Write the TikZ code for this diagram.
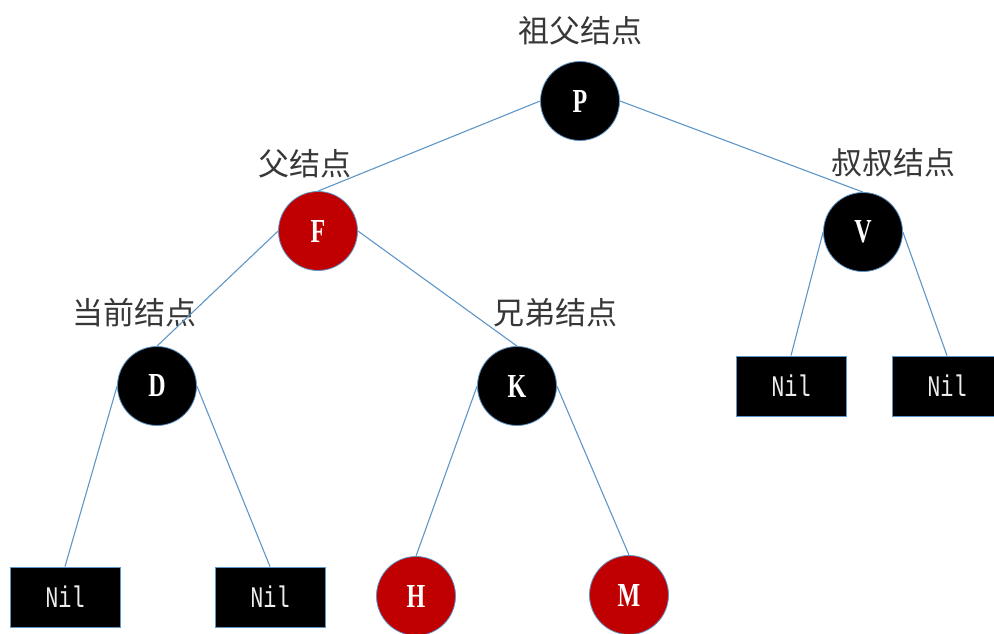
\documentclass[tikz,border=0pt]{standalone}
\usepackage{fontspec}
\setmainfont{Liberation Serif}
\setmonofont{Liberation Mono}
\newfontfamily\cjk{Noto Sans CJK SC}
\definecolor{edgeblue}{RGB}{95,150,200}
\definecolor{nodered}{RGB}{192,0,0}
\definecolor{labelgray}{RGB}{55,55,55}
\newcommand{\rbtext}[1]{\scalebox{0.8}[1.12]{#1}}
\newcommand{\niltext}[1]{\scalebox{0.95}[1.3]{#1}}
\tikzset{
  rbnode/.style={circle, minimum size=79pt, inner sep=0pt, draw=edgeblue, line width=0.8pt, text=white,
    font=\bfseries\fontsize{30}{32}\selectfont},
  blacknode/.style={rbnode, fill=black},
  rednode/.style={rbnode, fill=nodered},
  nilbox/.style={rectangle, minimum width=110pt, minimum height=60pt, inner sep=0pt, fill=black, draw=edgeblue,
    line width=0.8pt, text=white!85!gray, font=\ttfamily\fontsize{23}{25}\selectfont},
  cjklabel/.style={inner sep=0pt, text=labelgray, font=\cjk\fontsize{31}{34}\selectfont},
  link/.style={draw=edgeblue, line width=1.1pt}
}
\begin{document}
\begin{tikzpicture}[x=1pt, y=-1pt]
\useasboundingbox (0,0) rectangle (994,634);
% nodes
\node[blacknode] (P) at (580,101) {\rbtext{P}};
\node[rednode] (F) at (318,231) {\rbtext{F}};
\node[blacknode] (V) at (863,232) {\rbtext{V}};
\node[blacknode] (D) at (157,386) {\rbtext{D}};
\node[blacknode] (K) at (517,386) {\rbtext{K}};
\node[nilbox] (n1) at (791,386) {\niltext{Nil}};
\node[nilbox] (n2) at (947,386) {\niltext{Nil}};
\node[nilbox] (n3) at (65,597) {\niltext{Nil}};
\node[nilbox] (n4) at (270,597) {\niltext{Nil}};
\node[rednode] (H) at (416,596) {\rbtext{H}};
\node[rednode] (M) at (629,595) {\rbtext{M}};
% labels
\node[cjklabel] (lP) at (580,31) {祖父结点};
\node[cjklabel] (lF) at (305,164) {父结点};
\node[cjklabel] (lV) at (893,163) {叔叔结点};
\node[cjklabel] (lD) at (134,313) {当前结点};
\node[cjklabel] (lK) at (555,313) {兄弟结点};
% connectors
\draw[link] (P.west) -- (F.north);
\draw[link] (P.east) -- (V.north);
\draw[link] (F.west) -- (D.north);
\draw[link] (F.east) -- (K.north);
\draw[link] (V.west) -- (n1.north);
\draw[link] (V.east) -- (n2.north);
\draw[link] (D.west) -- (n3.north);
\draw[link] (D.east) -- (n4.north);
\draw[link] (K.west) -- (H.north);
\draw[link] (K.east) -- (M.north);
\end{tikzpicture}
\end{document}
